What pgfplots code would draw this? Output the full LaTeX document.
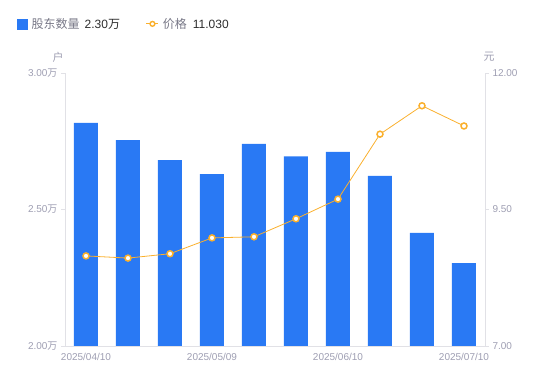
\documentclass[border=0pt]{standalone}
\usepackage{pgfplots}
\pgfplotsset{compat=1.18}
\usepackage{fontspec}
\setmainfont{Liberation Sans}
\newfontfamily\cjk{Noto Sans CJK SC}
\definecolor{barblue}{RGB}{41,121,244}
\definecolor{lineorange}{RGB}{250,176,45}
\definecolor{ticktext}{RGB}{158,158,178}
\definecolor{axisgray}{RGB}{225,225,230}
\definecolor{legtext}{RGB}{120,120,135}
\definecolor{valtext}{RGB}{45,45,45}
\pgfplotsset{
  base/.style={
    at={(65pt,35pt)}, anchor=south west, scale only axis,
    width=420pt, height=273pt,
    xmin=-0.5, xmax=9.5,
    axis line style={draw=axisgray, line width=0.8pt, -},
    tick style={draw=axisgray, line width=0.8pt},
    tick align=outside, major tick length=4pt,
    ticklabel style={font=\fontsize{10}{12}\selectfont, text=ticktext},
  }
}
\begin{document}
\begin{tikzpicture}[x=1pt,y=1pt]
\path[use as bounding box] (0,0) rectangle (550,381);
\begin{axis}[base,
  ymin=2, ymax=3,
  axis x line*=bottom, axis y line*=left,
  xtick={0,3,6,9},
  xticklabels={2025/04/10,2025/05/09,2025/06/10,2025/07/10},
  x tick style={draw=none},
  ytick={2,2.5,3},
  yticklabels={2.00{\cjk 万},2.50{\cjk 万},3.00{\cjk 万}},
]
\addplot[ybar, bar width=24pt, fill=barblue, draw=none] coordinates {
(0,2.817) (1,2.754) (2,2.681) (3,2.630) (4,2.740)
(5,2.695) (6,2.711) (7,2.623) (8,2.414) (9,2.304)};
\end{axis}
\begin{axis}[base,
  ymin=7, ymax=12,
  axis x line=none, axis y line*=right,
  ytick={7,9.5,12},
  yticklabels={7.00,9.50,12.00},
  legend style={draw=none, fill=none, at={(-0.114,1.18)}, anchor=west,
    font=\fontsize{12}{14}\selectfont, inner sep=0pt,
    /tikz/every even column/.append style={column sep=24pt}},
  legend columns=2,
]
\addlegendimage{legend image code/.code={\fill[barblue] (0pt,-5pt) rectangle (10pt,5pt);}}
\addlegendimage{legend image code/.code={\draw[lineorange, line width=0.8pt] (-1pt,0pt)--(11pt,0pt); \draw[lineorange, fill=white, line width=1.4pt] (5pt,0pt) circle (2.4pt);}}
\legend{\hspace{2pt}{\color{legtext}\cjk 股东数量}\hspace{5pt}{\color{valtext}2.30\cjk 万},\hspace{2pt}{\color{legtext}\cjk 价格}\hspace{6pt}{\color{valtext}11.030}}
\addplot[lineorange, line width=0.8pt, mark=*, mark size=3pt,
  mark options={fill=white, draw=lineorange, line width=1.5pt}] coordinates {
(0,8.65) (1,8.61) (2,8.69) (3,8.98) (4,9.00)
(5,9.33) (6,9.69) (7,10.88) (8,11.40) (9,11.03)};
\end{axis}
\node[text=ticktext, font=\fontsize{11}{13}\selectfont\cjk] at (58,324) {户};
\node[text=ticktext, font=\fontsize{11}{13}\selectfont\cjk] at (489,324) {元};
\end{tikzpicture}
\end{document}
